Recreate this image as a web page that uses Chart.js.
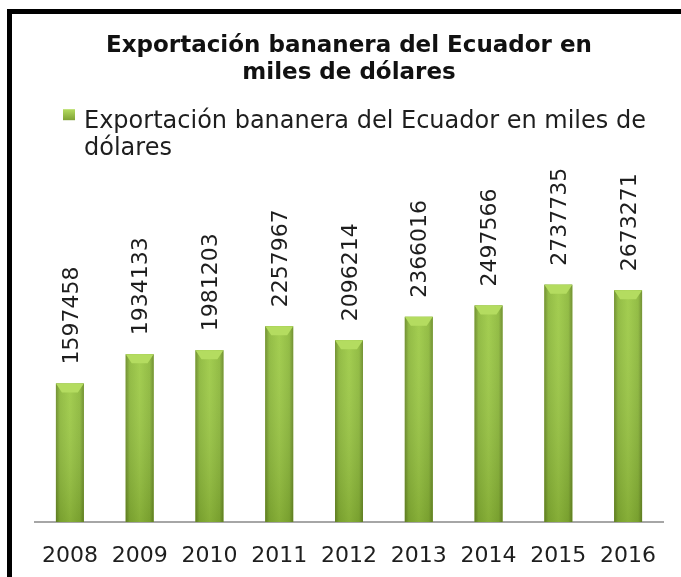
<!DOCTYPE html>
<html>
<head>
<meta charset="utf-8">
<script src="https://cdn.jsdelivr.net/npm/chart.js@4.4.1/dist/chart.umd.min.js"></script>
<style>
  html, body { margin: 0; padding: 0; background: #fff; }
  #wrap { position: relative; width: 681px; height: 577px; overflow: hidden; }
  #frame { position: absolute; left: 7px; top: 9px; width: 700px; height: 600px;
           border-top: 5px solid #000; border-left: 5px solid #000; }
  canvas { position: absolute; left: 0; top: 0; }
</style>
</head>
<body>
<div id="wrap">
  <div id="frame"></div>
  <canvas id="exportChart" width="681" height="577"></canvas>
</div>
<script>
// ── Data ──
const years = ['2008', '2009', '2010', '2011', '2012', '2013', '2014', '2015', '2016'];
const exportValues = [1597458, 1934133, 1981203, 2257967, 2096214, 2366016, 2497566, 2737735, 2673271];
const titleLines = ['Exportación bananera del Ecuador en', 'miles de dólares'];
const legendLines = ['Exportación bananera del Ecuador en miles de', 'dólares'];

Chart.defaults.font.family = '"DejaVu Sans", Verdana, sans-serif';

// Bevelled green look on each bar (Excel style)
const barShade = {
  id: 'barShade',
  afterDatasetsDraw(chart) {
    const ctx = chart.ctx;
    chart.getDatasetMeta(0).data.forEach(bar => {
      const {x, y, base, width} = bar.getProps(['x', 'y', 'base', 'width'], true);
      const l = x - width / 2, r = x + width / 2;
      ctx.save();
      const g = ctx.createLinearGradient(l, 0, r, 0);
      g.addColorStop(0, '#6a8a28');
      g.addColorStop(0.14, '#8cb83a');
      g.addColorStop(0.5, '#9dca45');
      g.addColorStop(0.86, '#8cb83a');
      g.addColorStop(1, '#6a8a28');
      ctx.fillStyle = g;
      ctx.fillRect(l, y, width, base - y);
      const v = ctx.createLinearGradient(0, y, 0, base);
      v.addColorStop(0, 'rgba(255,255,255,0.06)');
      v.addColorStop(1, 'rgba(40,60,0,0.2)');
      ctx.fillStyle = v;
      ctx.fillRect(l, y, width, base - y);
      // top bevel
      ctx.beginPath();
      ctx.moveTo(l, y);
      ctx.lineTo(r, y);
      ctx.lineTo(r - 6, y + 9);
      ctx.lineTo(l + 6, y + 9);
      ctx.closePath();
      ctx.fillStyle = '#b4dc60';
      ctx.fill();
      ctx.restore();
    });
  }
};

// Rotated value labels above the bars
const valueLabels = {
  id: 'valueLabels',
  afterDatasetsDraw(chart) {
    const ctx = chart.ctx;
    const ds = chart.data.datasets[0];
    chart.getDatasetMeta(0).data.forEach((bar, i) => {
      ctx.save();
      ctx.translate(bar.x + 2, bar.y - 19);
      ctx.rotate(-Math.PI / 2);
      ctx.font = '22px "DejaVu Sans", Verdana, sans-serif';
      ctx.fillStyle = '#1e1e1e';
      ctx.textAlign = 'left';
      ctx.textBaseline = 'middle';
      ctx.fillText(String(ds.data[i]), 0, 0);
      ctx.restore();
    });
  }
};

// Legend that wraps over two lines, drawn under the title
const wrapLegend = {
  id: 'wrapLegend',
  afterDraw(chart) {
    const ctx = chart.ctx;
    const left = chart.chartArea.left;
    const base1 = chart.titleBlock.bottom - 47;
    ctx.save();
    const g = ctx.createLinearGradient(0, base1 - 19, 0, base1 - 7);
    g.addColorStop(0, '#b4dc60');
    g.addColorStop(1, '#7a9c30');
    ctx.fillStyle = g;
    ctx.fillRect(left + 28, base1 - 19, 12, 11);
    ctx.font = '24px "DejaVu Sans", Verdana, sans-serif';
    ctx.fillStyle = '#1e1e1e';
    ctx.textBaseline = 'alphabetic';
    legendLines.forEach((line, i) => ctx.fillText(line, left + 49, base1 + i * 27));
    ctx.restore();
  }
};

new Chart(document.getElementById('exportChart'), {
  type: 'bar',
  data: {
    labels: years,
    datasets: [{
      label: legendLines.join(' '),
      data: exportValues,
      backgroundColor: '#8db83c',
      barPercentage: 0.4,
      categoryPercentage: 1.0
    }]
  },
  options: {
    responsive: false,
    animation: false,
    layout: { padding: { left: 35, right: 18, top: 0, bottom: 0 } },
    plugins: {
      legend: { display: false },
      tooltip: { enabled: false },
      title: {
        display: true,
        text: titleLines,
        color: '#111',
        font: { size: 23, weight: 'bold' },
        padding: { top: 32, bottom: 88 }
      }
    },
    scales: {
      x: {
        grid: { display: false, drawTicks: false },
        border: { display: true, color: '#a6a6a6', width: 2 },
        ticks: { color: '#1e1e1e', font: { size: 22 }, padding: 21, maxRotation: 0 },
        afterFit(scale) { scale.height = 55; }
      },
      y: { display: false, min: 0, max: 4000000 }
    }
  },
  plugins: [barShade, valueLabels, wrapLegend]
});
</script>
</body>
</html>
